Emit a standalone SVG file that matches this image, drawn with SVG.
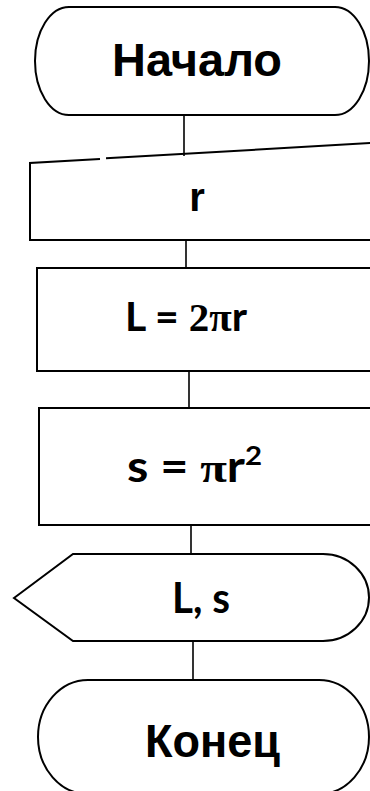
<svg xmlns="http://www.w3.org/2000/svg" width="370" height="791" viewBox="0 0 370 791">
<style>
.s{fill:#fff;stroke:#000;stroke-width:2}
.o{fill:none;stroke:#000;stroke-width:2}
.c{stroke:#000;stroke-width:1.6;fill:none}
.a{font-family:"Liberation Sans",Arial,sans-serif;font-weight:bold;fill:#000}
.b{font-family:Lato,"Liberation Sans",sans-serif;font-weight:bold;fill:#000}
.t{font-family:"Liberation Serif","Times New Roman",serif;font-weight:bold}
</style>
<rect width="370" height="791" fill="#fff"/>
<g id="connectors">
<line class="c" x1="184" y1="116" x2="184" y2="156"/>
<line class="c" x1="186" y1="240" x2="186" y2="268"/>
<line class="c" x1="189" y1="371" x2="189" y2="408"/>
<line class="c" x1="191" y1="525" x2="191" y2="554"/>
<line class="c" x1="193" y1="641" x2="193" y2="680"/>
</g>
<g id="start">
<rect class="s" x="35" y="7" width="334" height="108" rx="34" ry="54"/>
<text class="a" x="197" y="76" font-size="47" text-anchor="middle" textLength="170" lengthAdjust="spacingAndGlyphs">Начало</text>
</g>
<g id="input">
<path class="o" d="M100,158.9 L30,163 L30,240 L372,240"/>
<path class="o" d="M106,158.2 L372,143"/>
<text class="a" x="197" y="211" font-size="40" text-anchor="middle">r</text>
</g>
<g id="calcL">
<path class="o" d="M372,268 L37,268 L37,371 L372,371" stroke="#222"/>
<text class="b" x="125" y="331" font-size="41" textLength="122" lengthAdjust="spacingAndGlyphs">L = <tspan class="t">2π</tspan>r</text>
</g>
<g id="calcS">
<path class="o" d="M372,408 L39,408 L39,525 L372,525"/>
<text class="b" x="127" y="482" font-size="43" textLength="135" lengthAdjust="spacingAndGlyphs">s =  <tspan class="t">π</tspan>r<tspan font-size="26" dy="-17">2</tspan></text>
</g>
<g id="output">
<path class="s" d="M14,598 L73,554 L323,554 A46,43.5 0 0 1 323,641 L73,641 Z"/>
<text class="b" x="172" y="613" font-size="42" textLength="58" lengthAdjust="spacingAndGlyphs">L, s</text>
</g>
<g id="end">
<rect class="s" x="38" y="680" width="331" height="114" rx="50" ry="57"/>
<text class="a" x="145" y="757" font-size="47" textLength="135" lengthAdjust="spacingAndGlyphs">Конец</text>
</g>
</svg>
